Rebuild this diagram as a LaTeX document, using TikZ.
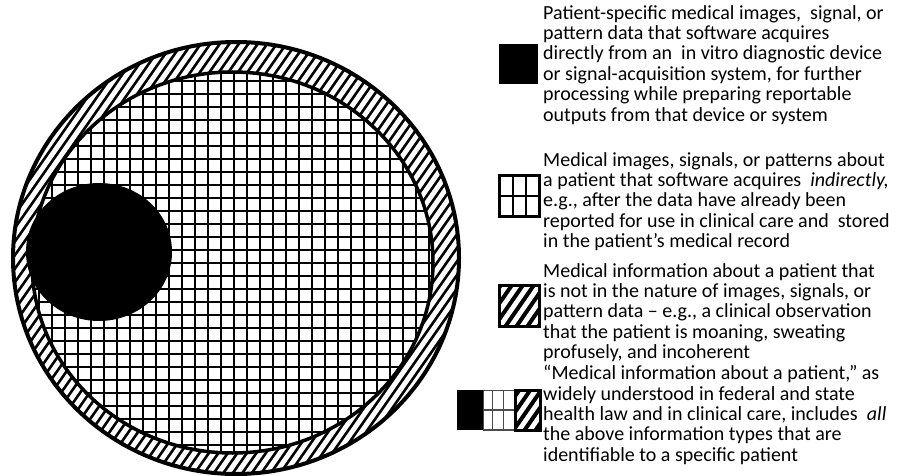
\documentclass[tikz,border=0pt]{standalone}
\usepackage{fontspec}
\setmainfont{Carlito}
\usetikzlibrary{calc}
\begin{document}
\begin{tikzpicture}[x=1pt,y=-1pt,
  legtext/.style={anchor=north west, inner sep=0pt, align=left, font=\fontsize{20}{20.4}\selectfont},
  gridline/.style={line width=1.2pt, black},
  hatchline/.style={line width=2.6pt, black},
  iconbox/.style={draw=black, inner sep=0pt, minimum width=40pt, minimum height=41pt},
  solidicon/.style={fill=black, inner sep=0pt, minimum width=39pt, minimum height=40pt},
  gridicon/.style={iconbox, line width=3.5pt, fill=white,
    path picture={
      \draw[line width=1.8pt] ($(path picture bounding box.north west)!1/3!(path picture bounding box.north east)$) -- ($(path picture bounding box.south west)!1/3!(path picture bounding box.south east)$);
      \draw[line width=1.8pt] ($(path picture bounding box.north west)!2/3!(path picture bounding box.north east)$) -- ($(path picture bounding box.south west)!2/3!(path picture bounding box.south east)$);
      \draw[line width=1.8pt] ($(path picture bounding box.north west)!1/2!(path picture bounding box.south west)$) -- ($(path picture bounding box.north east)!1/2!(path picture bounding box.south east)$);
    }},
  hatchicon/.style={iconbox, line width=3pt, fill=white,
    path picture={
      \foreach \i in {-4,...,4}
        \draw[line width=4pt] ([xshift=\i*11pt]path picture bounding box.center) ++(-18,26) -- ++(36,-52);
    }},
]
\useasboundingbox (0,0) rectangle (899,476);

% hatched ring
\begin{scope}
  \clip (236,258) ellipse [x radius=223pt, y radius=216pt];
  \foreach \i in {-36,...,50}
    \draw[hatchline] (\i*9.5, 480) -- ++(336,-480);
\end{scope}
% grid interior
\begin{scope}
  \clip (232.5,262.5) ellipse [x radius=200.5pt, y radius=190.5pt];
  \fill[white] (20,60) rectangle (440,460);
  \foreach \k in {2,...,36}
    \draw[gridline] (13*\k, 60) -- (13*\k, 460);
  \foreach \k in {4,...,35}
    \draw[gridline] (20, 3+13*\k) -- (440, 3+13*\k);
\end{scope}
\draw[line width=3.5pt] (232.5,262.5) ellipse [x radius=200.5pt, y radius=190.5pt];
\draw[line width=4pt] (236,258) ellipse [x radius=223pt, y radius=216pt];
% black disk
\fill[black] (99,252) ellipse [x radius=73pt, y radius=69pt];

% legend icons
\node[solidicon] (ic1) at (518.5,64) {};
\node[gridicon] (ic2) at (519.5,196) {};
\node[hatchicon] (ic3) at (519.5,306) {};
% combined icon
\node[fill=black, inner sep=0pt, minimum width=27pt, minimum height=40pt] (ca) at (470,410) {};
\node[draw=black!70, line width=0.8pt, fill=white, inner sep=0pt, minimum width=31pt, minimum height=40pt,
  path picture={
    \draw[line width=1.2pt] ($(path picture bounding box.north west)!0.3!(path picture bounding box.north east)$) -- ($(path picture bounding box.south west)!0.3!(path picture bounding box.south east)$);
    \draw[line width=1.2pt] ($(path picture bounding box.north west)!0.65!(path picture bounding box.north east)$) -- ($(path picture bounding box.south west)!0.65!(path picture bounding box.south east)$);
    \draw[line width=1.2pt] ($(path picture bounding box.north west)!0.5!(path picture bounding box.south west)$) -- ($(path picture bounding box.north east)!0.5!(path picture bounding box.south east)$);
    \draw[line width=2.5pt] (path picture bounding box.north west) -- (path picture bounding box.north east);
    \draw[line width=2.5pt] (path picture bounding box.south west) -- (path picture bounding box.south east);
  }] (cb) at (499,410) {};
\node[draw=black, line width=3pt, fill=white, inner sep=0pt, minimum width=25pt, minimum height=40pt,
  path picture={
    \foreach \i in {-3,...,3}
      \draw[line width=4pt] ([xshift=\i*11pt]path picture bounding box.center) ++(-18,26) -- ++(36,-52);
  }] (cc) at (527.5,410) {};

% legend texts
\node[legtext] (t1) at (543,5) {Patient-specific medical images,\ \ signal, or\\
pattern data that software acquires\\
directly from an\ \ in vitro diagnostic device\\
or signal-acquisition system, for further\\
processing while preparing reportable\\
outputs from that device or system};
\node[legtext] (t2) at (543,152) {Medical images, signals, or patterns about\\
a patient that software acquires\ \ \textit{indirectly,}\\
e.g., after the data have already been\\
reported for use in clinical care and\ \ stored\\
in the patient’s medical record};
\node[legtext] (t3) at (543,263) {Medical information about a patient that\\
is not in the nature of images, signals, or\\
pattern data – e.g., a clinical observation\\
that the patient is moaning, sweating\\
profusely, and incoherent};
\node[legtext] (t4) at (543,365) {“Medical information about a patient,” as\\
widely understood in federal and state\\
health law and in clinical care, includes\ \ \textit{all}\\
the above information types that are\\
identifiable to a specific patient};
\end{tikzpicture}
\end{document}
